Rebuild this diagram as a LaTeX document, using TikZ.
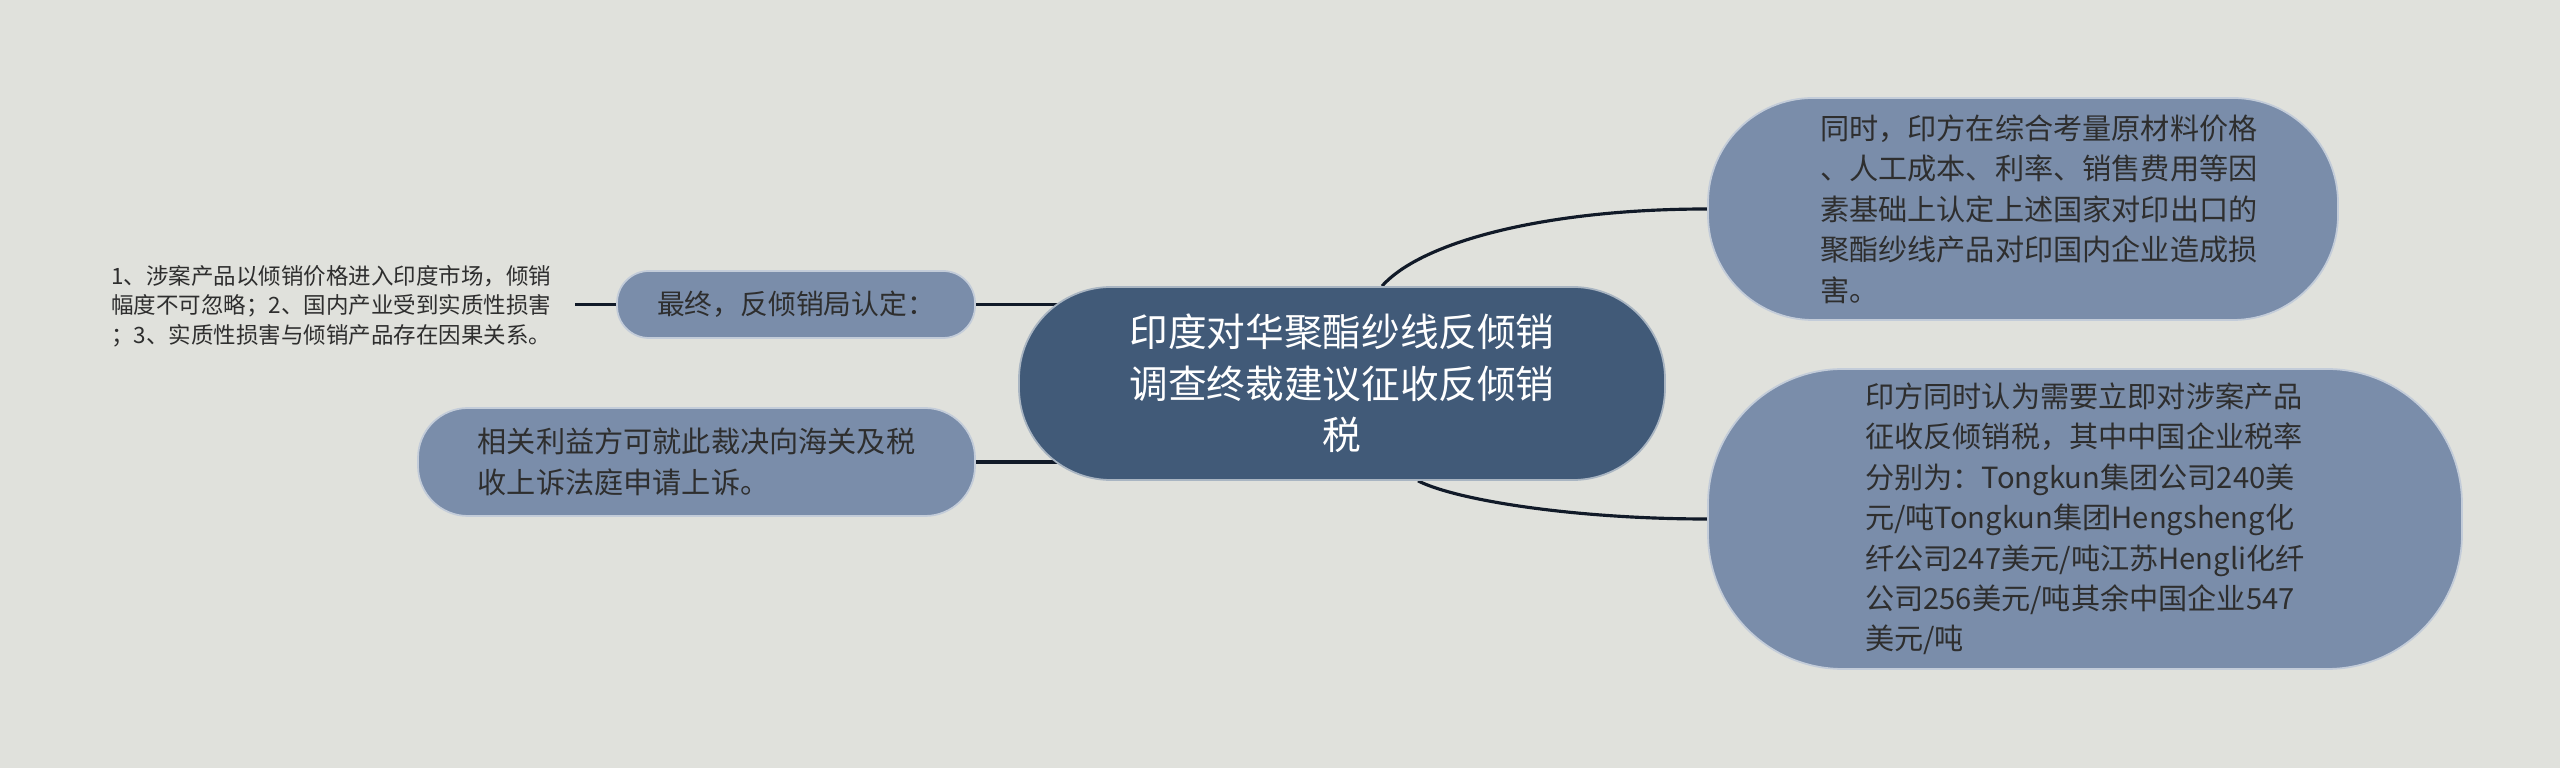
\documentclass[tikz,border=0pt]{standalone}
\usepackage{fontspec}
\setmainfont{Noto Sans CJK SC}
\usetikzlibrary{backgrounds}
\definecolor{bgcol}{HTML}{E0E1DC}
\definecolor{topicfill}{HTML}{415A78}
\definecolor{subfill}{HTML}{7A8DAA}
\definecolor{linkcol}{HTML}{111A28}
\definecolor{txtcol}{HTML}{2E2E2E}

\begin{document}
\begin{tikzpicture}[
    topic/.style={fill=topicfill, draw=white!55!topicfill, line width=0.5pt, text=white, align=center, font=\fontsize{11pt}{14.6pt}\selectfont},
    sub/.style={fill=subfill, draw=white!55!subfill, line width=0.5pt, text=txtcol, align=left, font=\fontsize{8.3pt}{11.5pt}\selectfont},
    link/.style={draw=linkcol, line width=0.9pt},
]
    \useasboundingbox (0,0) rectangle (25.6,7.68);
    \begin{scope}[on background layer]
        \fill[bgcol] (0,0) rectangle (25.6,7.68);
    \end{scope}

    % main topic
    \node[topic, minimum width=6.46cm, minimum height=1.93cm, rounded corners=0.92cm] (title) at (13.42,3.845)
        {印度对华聚酯纱线反倾销\\调查终裁建议征收反倾销\\税};

    % left side
    \node[sub, minimum width=3.58cm, minimum height=0.67cm, rounded corners=0.32cm, font=\fontsize{7.9pt}{10pt}\selectfont] (zuizhong) at (7.96,4.635)
        {最终，反倾销局认定：};
    \node[align=left, text=txtcol, inner xsep=0.23cm, anchor=east, font=\fontsize{6.4pt}{8.35pt}\selectfont] (rending) at (5.75,4.62)
        {1、涉案产品以倾销价格进入印度市场，倾销\\幅度不可忽略；2、国内产业受到实质性损害\\；3、实质性损害与倾销产品存在因果关系。};
    \node[sub, minimum width=5.57cm, minimum height=1.08cm, rounded corners=0.5cm] (shangsu) at (6.965,3.06)
        {相关利益方可就此裁决向海关及税\\收上诉法庭申请上诉。};

    % right side
    \node[sub, minimum width=6.30cm, minimum height=2.22cm, rounded corners=1.05cm, text width=4.8cm] (sunhai) at (20.23,5.59)
        {\leftskip=0.37cm 同时，印方在综合考量原材料价格\\、人工成本、利率、销售费用等因\\素基础上认定上述国家对印出口的\\聚酯纱线产品对印国内企业造成损\\害。\par};
    \node[sub, minimum width=7.54cm, minimum height=3.00cm, rounded corners=1.35cm] (shuilv) at (20.85,2.49)
        {印方同时认为需要立即对涉案产品\\征收反倾销税，其中中国企业税率\\分别为：Tongkun集团公司240美\\元/吨Tongkun集团Hengsheng化\\纤公司247美元/吨江苏Hengli化纤\\公司256美元/吨其余中国企业547\\美元/吨};

    % links
    \begin{scope}[on background layer]
        \draw[link] (zuizhong.west) -- (zuizhong.west -| rending.east);
        \draw[link] (zuizhong.east) -- (zuizhong.east -| title.center);
        \draw[link] (shangsu.east) -- (shangsu.east -| title.center);
        \draw[link] ([xshift=0.4cm]title.north) .. controls +(0.4,0.45) and +(-1.6,0) .. (sunhai.west);
        \draw[link] ([xshift=0.76cm]title.south) .. controls +(0.4,-0.2) and +(-1.3,0) .. (shuilv.west);
    \end{scope}
\end{tikzpicture}
\end{document}
